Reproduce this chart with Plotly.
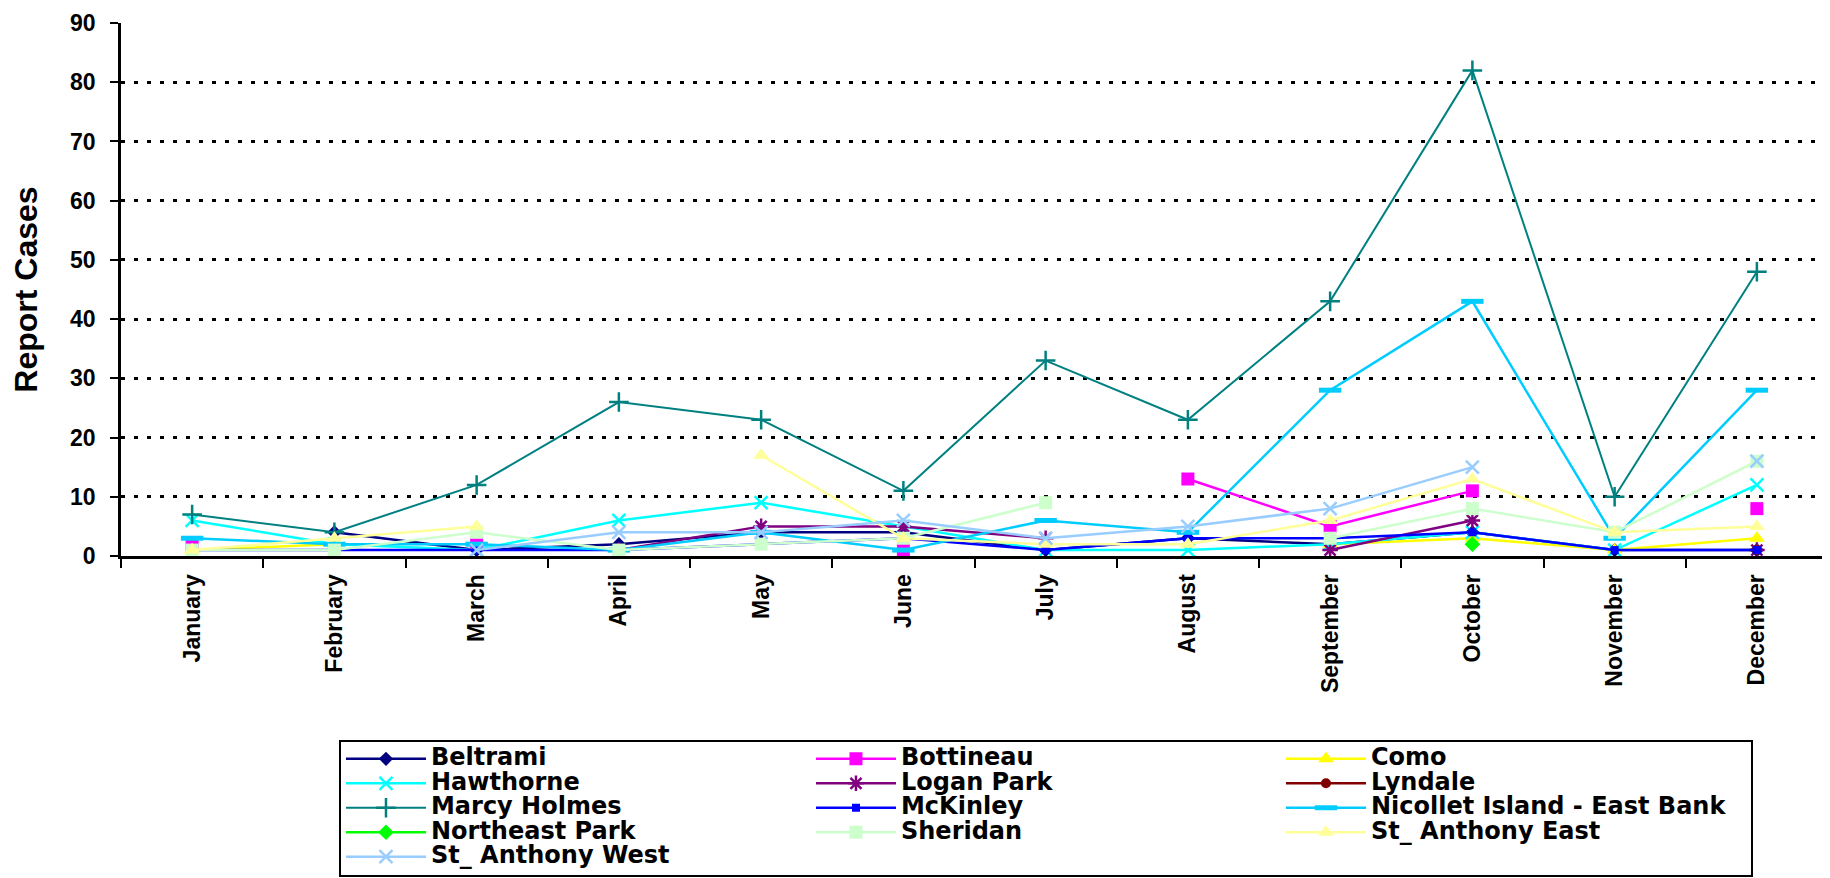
import plotly.graph_objects as go

months = ["January", "February", "March", "April", "May", "June", "July",
          "August", "September", "October", "November", "December"]

beltrami = [None, 4, 1, 2, 4, 4, 1, 3, 2, 4, 1, 1]
bottineau = [2, None, 2, None, None, 1, None, 13, 5, 11, None, 8]
como = [1, 2, None, None, None, None, None, None, 2, 3, 1, 3]
hawthorne = [6, 2, 1, 6, 9, 5, 1, 1, 2, 4, 1, 12]
logan_park = [None, None, None, 1, 5, 5, 3, None, 1, 6, None, 1]
lyndale = [None, None, None, None, None, None, None, None, None, None, None, 1]
marcy_holmes = [7, 4, 12, 26, 23, 11, 33, 23, 43, 82, 10, 48]
mckinley = [1, 1, 1, 1, 2, 3, 1, 3, 3, 4, 1, 1]
nicollet = [3, 2, 2, 1, 4, 1, 6, 4, 28, 43, 3, 28]
northeast_park = [None, None, None, None, None, None, None, None, None, 2, None, None]
sheridan = [1, 1, 4, 1, 2, 3, 9, None, 3, 8, 4, 16]
st_anthony_east = [1, 3, 5, None, 17, 3, 2, 2, 6, 13, 4, 5]
st_anthony_west = [None, None, 1, 4, 4, 6, 3, 5, 8, 15, None, 16]

# name, values, colour, marker symbol, marker size
series = [
    ("Beltrami", beltrami, "#000080", "diamond", 11),
    ("Bottineau", bottineau, "#FF00FF", "square", 13),
    ("Como", como, "#FFFF00", "triangle-up", 14),
    ("Hawthorne", hawthorne, "#00FFFF", "x-thin-open", 13),
    ("Logan Park", logan_park, "#800080", "asterisk-open", 13),
    ("Lyndale", lyndale, "#800000", "circle", 10),
    ("Marcy Holmes", marcy_holmes, "#008080", "cross-thin-open", 14),
    ("McKinley", mckinley, "#0000FF", "square", 8),
    ("Nicollet Island - East Bank", nicollet, "#00CCFF", "line-ew-open", 16),
    ("Northeast Park", northeast_park, "#00FF00", "diamond", 12),
    ("Sheridan", sheridan, "#CCFFCC", "square", 13),
    ("St_ Anthony East", st_anthony_east, "#FFFF99", "triangle-up", 14),
    ("St_ Anthony West", st_anthony_west, "#99CCFF", "x-thin-open", 13),
]

FONT = "Liberation Sans, Arial, sans-serif"
LEGEND_FONT = "DejaVu Sans, sans-serif"

fig = go.Figure()

for name, values, color, symbol, size in series:
    marker_w = 5 if symbol == "line-ew-open" else 2.5
    fig.add_trace(
        go.Scatter(
            x=months,
            y=values,
            name='<span style="font-size:24px">' + name + '</span>',
            mode="lines+markers",
            line=dict(color=color, width=2 if name == "Marcy Holmes" else 2.5),
            marker=dict(symbol=symbol, size=size, color=color,
                        line=dict(color=color, width=marker_w if symbol.endswith("open") else 0)),
        )
    )

fig.update_xaxes(
    type="category",
    range=[-0.5, 11.5],
    showline=True,
    linecolor="black",
    linewidth=3,
    ticks="outside",
    tickson="boundaries",
    ticklen=9,
    tickwidth=2,
    tickcolor="black",
    tickangle=-90,
    ticklabelstandoff=6,
    tickfont=dict(family=FONT, size=23, color="black", weight="bold"),
    showgrid=False,
)

fig.update_yaxes(
    range=[0, 90],
    dtick=10,
    showline=True,
    linecolor="black",
    linewidth=2.5,
    ticks="outside",
    ticklen=8,
    tickwidth=2,
    tickcolor="black",
    ticklabelstandoff=10,
    ticklabeloverflow="allow",
    tickfont=dict(family=FONT, size=23, color="black", weight="bold"),
    showgrid=True,
    gridcolor="black",
    gridwidth=3,
    griddash="4px,9px",
    zeroline=False,
    title=dict(text="Report Cases", standoff=30,
               font=dict(family=FONT, size=32, color="black", weight="bold")),
)

# page body has an 8px margin, so the figure is sized and offset to fit the window
fig.update_layout(
    width=1822,
    height=870,
    margin=dict(l=113, r=2, t=12, b=317),
    paper_bgcolor="white",
    plot_bgcolor="white",
    showlegend=True,
    legend=dict(
        orientation="h",
        x=0.1277,
        xanchor="left",
        y=-0.3445,
        yanchor="top",
        bgcolor="white",
        bordercolor="black",
        borderwidth=2,
        itemwidth=80,
        entrywidth=375,
        entrywidthmode="pixels",
        font=dict(family=LEGEND_FONT, size=16.5, color="black", weight="bold"),
    ),
)

fig.write_html("out.html")
